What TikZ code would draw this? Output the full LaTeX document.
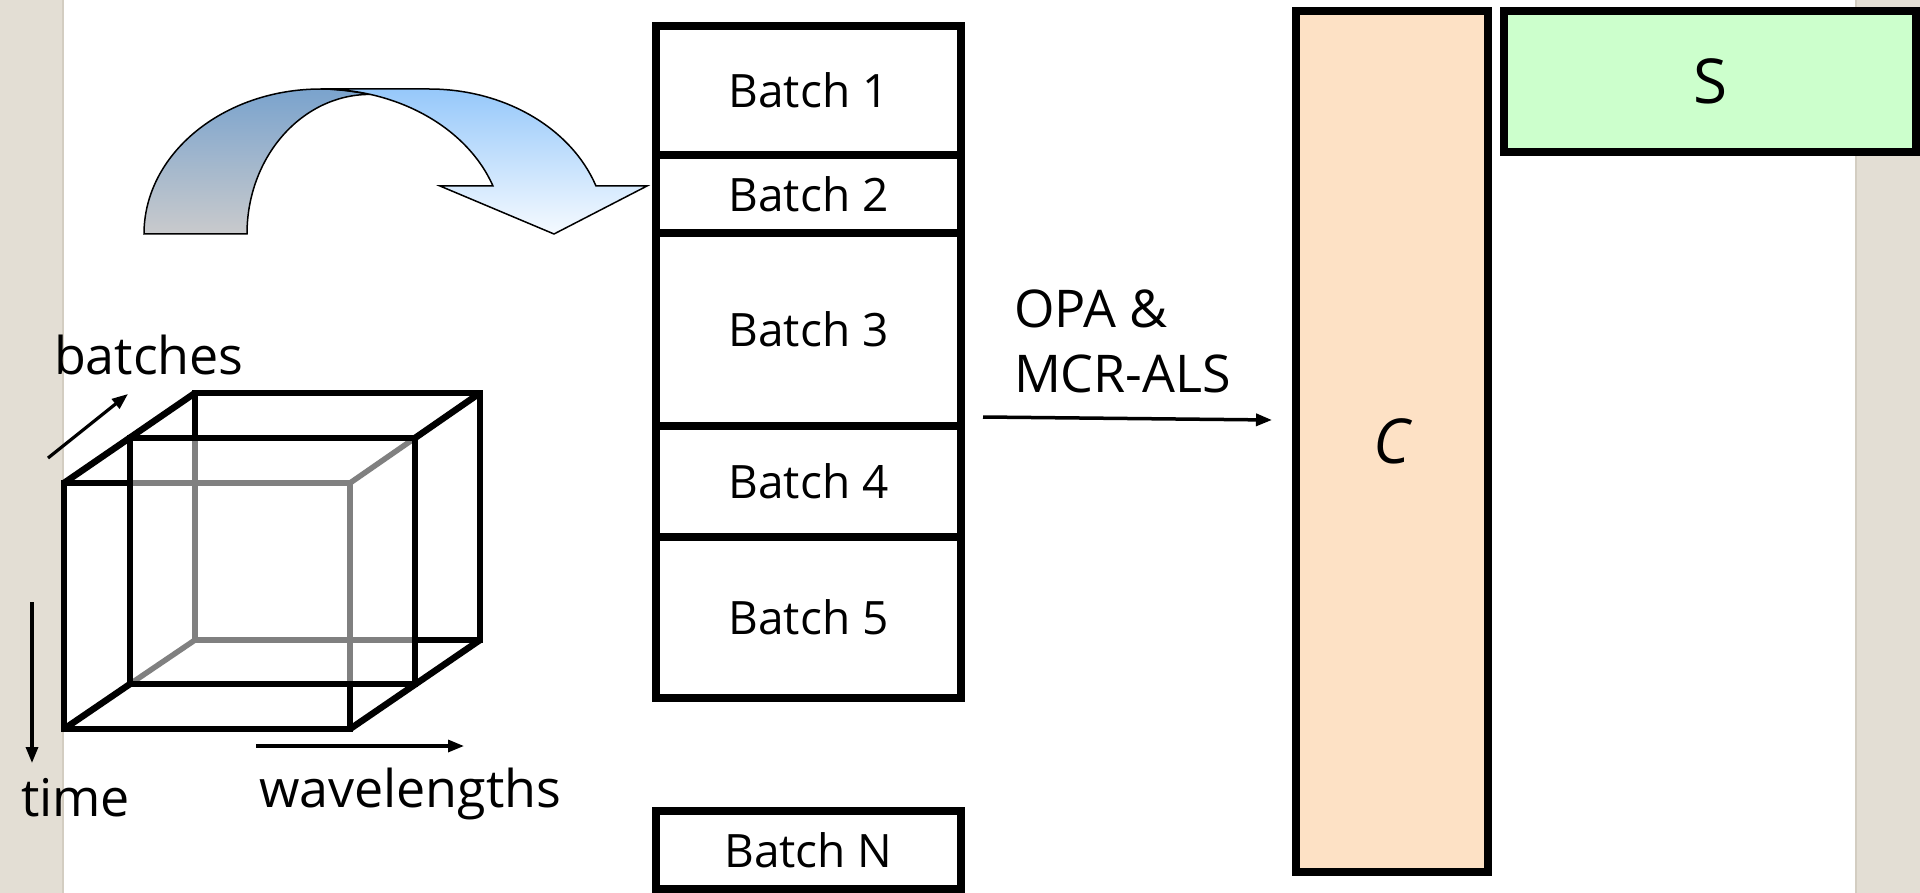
\documentclass[tikz,border=0pt]{standalone}
\usepackage{fontspec}
\setmainfont{Open Sans}
\usetikzlibrary{arrows.meta}

\definecolor{stripbg}{HTML}{E3DED4}
\definecolor{stripedge}{HTML}{D3CDC1}
\definecolor{peach}{HTML}{FDE1C5}
\definecolor{mint}{HTML}{CCFFCC}
\definecolor{hidden}{HTML}{808080}
\definecolor{backtop}{HTML}{7AA3CD}
\definecolor{backbot}{HTML}{C9CACC}
\definecolor{fronttop}{HTML}{96C8FA}
\definecolor{frontbot}{HTML}{F5FAFF}

\begin{document}
\begin{tikzpicture}[x=1pt,y=-1pt,
  cell/.style={draw=black, line width=7.5pt, minimum width=305pt,
    inner sep=0pt, outer sep=0pt, font=\fontsize{46}{50}\selectfont},
  matrixbox/.style={draw=black, line width=8.5pt, inner sep=0pt, outer sep=0pt,
    font=\fontsize{62}{66}\selectfont},
  label/.style={inner sep=0pt, outer sep=0pt, anchor=base west,
    font=\fontsize{52}{56}\selectfont},
  oplabel/.style={inner sep=0pt, outer sep=0pt, anchor=base west,
    font=\fontsize{52}{58}\selectfont},
  axisarrow/.style={line width=3.2pt, -{Triangle[length=16pt,width=12pt]}},
  edgeB/.style={line width=6.5pt, black, line cap=rect},
  diagB/.style={line width=6.5pt, black, line cap=butt},
  edgeG/.style={line width=5.5pt, hidden, line cap=butt},
  uturn/.style={draw=black, line width=1.5pt, line join=miter}
]
\useasboundingbox (0,0) rectangle (1920,893);

% page background with side margins
\fill[white] (0,0) rectangle (1920,893);
\fill[stripbg] (0,0) rectangle (64,893);
\fill[stripbg] (1855,0) rectangle (1920,893);
\draw[stripedge, line width=2pt] (63,0) -- (63,893);
\draw[stripedge, line width=2pt] (1856,0) -- (1856,893);

% curved arrow: back band
\path[uturn, top color=backtop, bottom color=backbot]
  (144,234) .. controls (144,153.9) and (223.2,89) .. (321,89)
  .. controls (337,89) and (354,91.5) .. (370,94.4)
  .. controls (302.1,94.4) and (247,156.7) .. (247,234) -- cycle;
% curved arrow: front band with head
\path[uturn, top color=fronttop, bottom color=frontbot]
  (321,89) -- (429,89)
  .. controls (504.2,89) and (571.1,127.9) .. (596,186)
  -- (647,186) -- (554,234) -- (440,186) -- (493,186)
  .. controls (467.2,127.9) and (398.3,89) .. (321,89) -- cycle;

% data cube: hidden edges first
\draw[edgeG] (130,483) -- (350,483) -- (350,684);
\draw[edgeG] (195,438) -- (195,640) -- (415,640);
\draw[edgeG] (350,483) -- (415,438);
\draw[edgeG] (130,684) -- (195,640);
% data cube: visible edges
\draw[edgeB] (130,483) -- (64,483) -- (64,729) -- (350,729) -- (350,684);
\draw[edgeB] (130,438) rectangle (415,684);
\draw[edgeB] (195,438) -- (195,393) -- (480,393) -- (480,640) -- (415,640);
\draw[diagB] (64,483) -- (195,393);
\draw[diagB] (415,438) -- (480,393);
\draw[diagB] (64,729) -- (130,684);
\draw[diagB] (350,729) -- (480,640);

% cube axes
\coordinate (batchTail) at (48,458);
\coordinate (batchTip) at (128,394);
\coordinate (timeTail) at (32,602);
\coordinate (timeTip) at (32,763);
\coordinate (waveTail) at (256,746);
\coordinate (waveTip) at (464,746);
\draw[axisarrow] (batchTail) -- (batchTip);
\draw[axisarrow] (timeTail) -- (timeTip);
\draw[axisarrow] (waveTail) -- (waveTip);
\node[label] (lbatches) at (54,374) {batches};
\node[label] (ltime) at (21,816) {time};
\node[label] (lwave) at (259,807) {wavelengths};

% unfolded batch stack
\node[cell, minimum height=129pt] (b1) at (808.5,90.5) {Batch 1};
\node[cell, minimum height=78pt] (b2) at (808.5,194) {Batch 2};
\node[cell, minimum height=193pt] (b3) at (808.5,329.5) {Batch 3};
\node[cell, minimum height=111pt] (b4) at (808.5,481.5) {Batch 4};
\node[cell, minimum height=161pt] (b5) at (808.5,617.5) {Batch 5};
\node[cell, minimum height=78pt] (bN) at (808.5,850) {Batch N};

% resolution step
\node[oplabel] (opa) at (1014,328) {OPA \&};
\node[oplabel] (mcr) at (1014,392) {MCR-ALS};
\coordinate (solveFrom) at (983,417);
\coordinate (solveTo) at (1272,420);
\draw[line width=3.5pt, -{Triangle[length=16pt,width=12pt]}] (solveFrom) -- (solveTo);

% resolved profiles
\node[matrixbox, fill=peach, minimum width=192pt, minimum height=861pt]
  (C) at (1392,441.5) {\itshape C};
\node[matrixbox, fill=mint, minimum width=412pt, minimum height=141pt]
  (S) at (1710,81.5) {S};
\end{tikzpicture}
\end{document}
